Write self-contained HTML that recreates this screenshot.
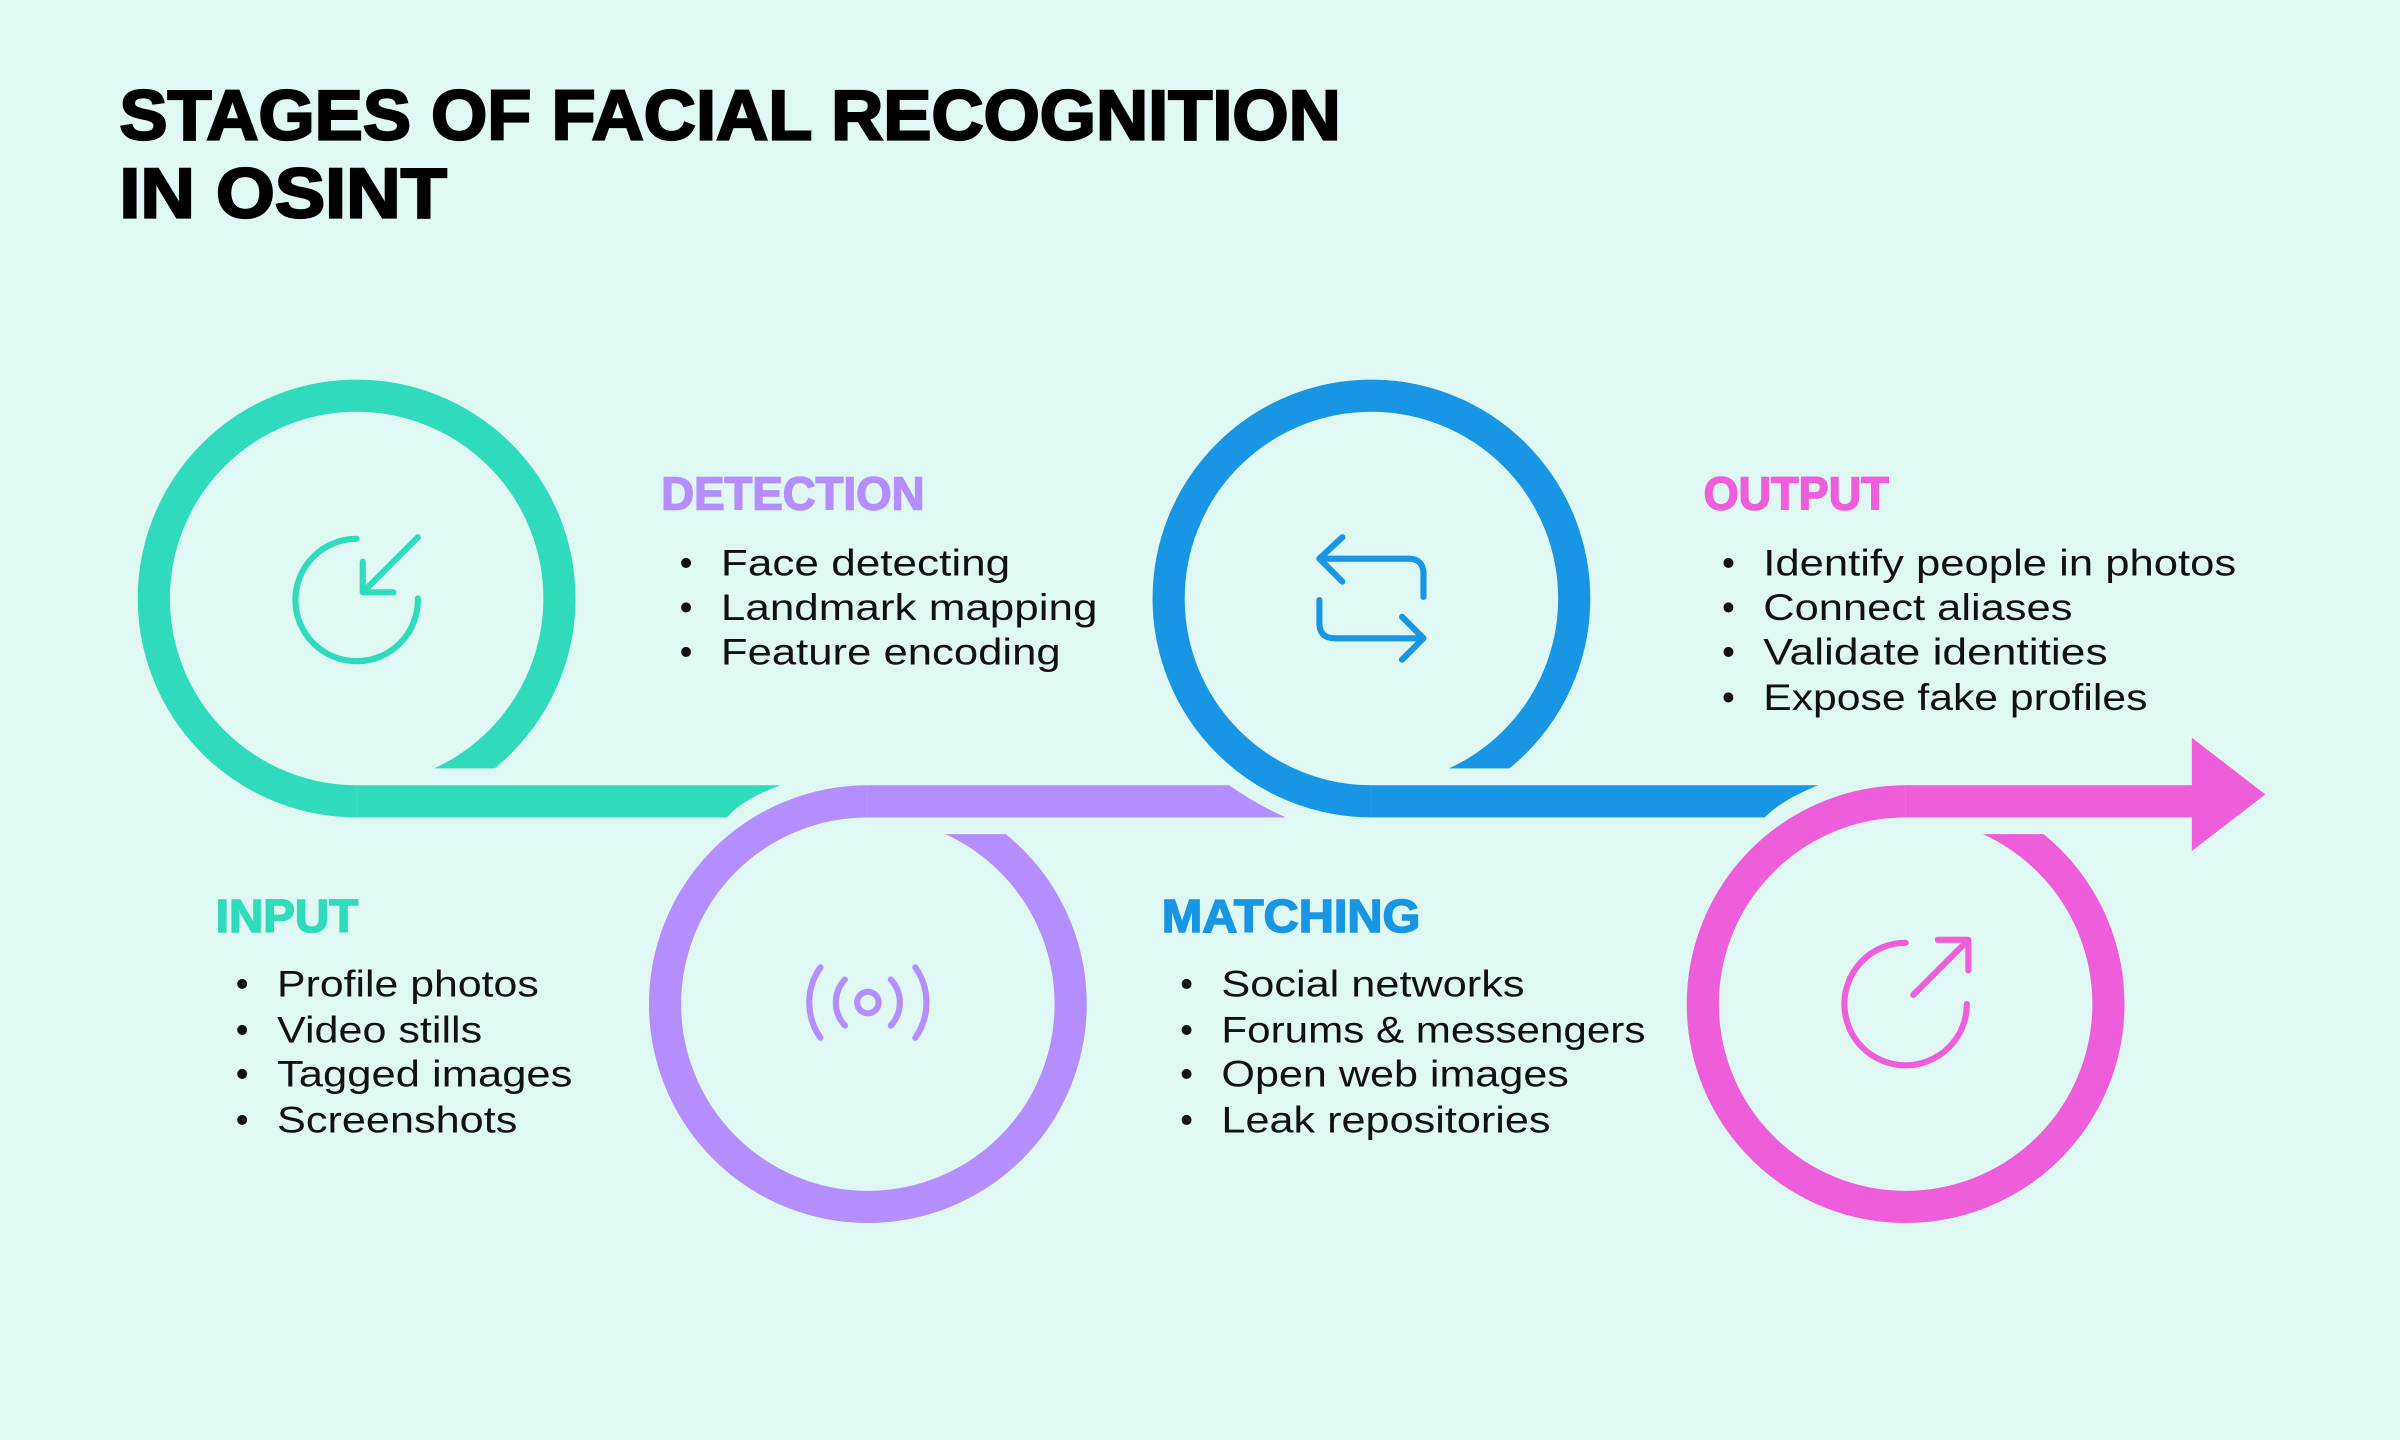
<!DOCTYPE html>
<html><head><meta charset="utf-8"><style>
html,body{margin:0;padding:0;background:#e0f8f3;}
svg{display:block;}
.b{font-family:"Liberation Sans",sans-serif;font-size:24px;fill:#111;}
.h{font-family:"Liberation Sans",sans-serif;font-weight:bold;font-size:30px;stroke-width:1;}
.t{font-family:"Liberation Sans",sans-serif;font-weight:bold;font-size:46px;fill:#000;stroke:#000;stroke-width:1.5;}
</style></head><body>
<svg width="2400" height="1440" viewBox="0 0 1568 940.8" preserveAspectRatio="none" xmlns="http://www.w3.org/2000/svg">
<defs>
<clipPath id="c1"><path d="M0,0 H1568 V502 H233 V941 H0 Z"/></clipPath>
<clipPath id="c2"><path d="M0,0 H567 V545 H1568 V941 H0 Z"/></clipPath>
<clipPath id="c3"><path d="M0,0 H1568 V502 H896 V941 H0 Z"/></clipPath>
<clipPath id="c4"><path d="M0,0 H1245 V545 H1568 V941 H0 Z"/></clipPath>
</defs>
<rect width="1568" height="941" fill="#e0f8f3"/>
<text class="t" x="78" y="91" textLength="798" lengthAdjust="spacingAndGlyphs">STAGES OF FACIAL RECOGNITION</text>
<text class="t" x="78" y="142" textLength="214" lengthAdjust="spacingAndGlyphs">IN OSINT</text>

<!-- teal -->
<circle cx="233" cy="391" r="132.5" fill="none" stroke="#30dbbb" stroke-width="21" clip-path="url(#c1)"/>
<path d="M233,513 L510,513 Q485,522 475,534 L233,534 Z" fill="#30dbbb"/>
<!-- purple -->
<circle cx="567" cy="656" r="132.5" fill="none" stroke="#b48efc" stroke-width="21" clip-path="url(#c2)"/>
<path d="M567,513 L803,513 Q820,525 840,534 L567,534 Z" fill="#b48efc"/>
<!-- blue -->
<circle cx="896" cy="391" r="132.5" fill="none" stroke="#1896e4" stroke-width="21" clip-path="url(#c3)"/>
<path d="M896,513 L1188,513 Q1165,522 1153,534 L896,534 Z" fill="#1896e4"/>
<!-- pink -->
<circle cx="1245" cy="656" r="132.5" fill="none" stroke="#ee5edb" stroke-width="21" clip-path="url(#c4)"/>
<path d="M1245,513 L1432,513 L1432,482 L1480,519 L1432,556 L1432,534 L1245,534 Z" fill="#ee5edb"/>

<!-- icons -->
<g fill="none" stroke="#30dbbb" stroke-width="4" stroke-linecap="round" stroke-linejoin="round">
<path d="M233,352 A40,40 0 1 0 273,391"/>
<path d="M273,351 L237,387 M237,367 L237,387 L257,387"/>
</g>
<g fill="none" stroke="#b48efc" stroke-width="4" stroke-linecap="round">
<circle cx="567" cy="655" r="7"/>
<path d="M552,640 A22,22 0 0 0 552,670 M582,640 A22,22 0 0 1 582,670"/>
<path d="M536,632 A40,40 0 0 0 536,678 M598,632 A40,40 0 0 1 598,678"/>
</g>
<g fill="none" stroke="#1896e4" stroke-width="4" stroke-linecap="round" stroke-linejoin="round">
<path d="M862,365 L920,365 Q930,365 930,375 L930,390 M877,351 L862,365 L877,380"/>
<path d="M862,392 L862,407 Q862,417 872,417 L930,417 M916,403 L930,417 L916,431"/>
</g>
<g fill="none" stroke="#ee5edb" stroke-width="4" stroke-linecap="round" stroke-linejoin="round">
<path d="M1245,616 A40,40 0 1 0 1285,656"/>
<path d="M1250,650 L1286,614 M1266,614 L1286,614 L1286,634"/>
</g>

<!-- DETECTION -->
<text class="h" x="432" y="333" fill="#b48efc" stroke="#b48efc" textLength="172" lengthAdjust="spacingAndGlyphs">DETECTION</text>
<g class="b">
<text x="444" y="376">•</text><text x="471" y="376" textLength="189" lengthAdjust="spacingAndGlyphs">Face detecting</text>
<text x="444" y="405">•</text><text x="471" y="405" textLength="246" lengthAdjust="spacingAndGlyphs">Landmark mapping</text>
<text x="444" y="434">•</text><text x="471" y="434" textLength="222" lengthAdjust="spacingAndGlyphs">Feature encoding</text>
</g>
<!-- INPUT -->
<text class="h" x="141" y="609" fill="#30dbbb" stroke="#30dbbb" textLength="93" lengthAdjust="spacingAndGlyphs">INPUT</text>
<g class="b">
<text x="154" y="651">•</text><text x="181" y="651" textLength="171" lengthAdjust="spacingAndGlyphs">Profile photos</text>
<text x="154" y="681">•</text><text x="181" y="681" textLength="134" lengthAdjust="spacingAndGlyphs">Video stills</text>
<text x="154" y="710">•</text><text x="181" y="710" textLength="193" lengthAdjust="spacingAndGlyphs">Tagged images</text>
<text x="154" y="740">•</text><text x="181" y="740" textLength="157" lengthAdjust="spacingAndGlyphs">Screenshots</text>
</g>
<!-- MATCHING -->
<text class="h" x="759" y="609" fill="#1896e4" stroke="#1896e4" textLength="169" lengthAdjust="spacingAndGlyphs">MATCHING</text>
<g class="b">
<text x="771" y="651">•</text><text x="798" y="651" textLength="198" lengthAdjust="spacingAndGlyphs">Social networks</text>
<text x="771" y="681">•</text><text x="798" y="681" textLength="277" lengthAdjust="spacingAndGlyphs">Forums &amp; messengers</text>
<text x="771" y="710">•</text><text x="798" y="710" textLength="227" lengthAdjust="spacingAndGlyphs">Open web images</text>
<text x="771" y="740">•</text><text x="798" y="740" textLength="215" lengthAdjust="spacingAndGlyphs">Leak repositories</text>
</g>
<!-- OUTPUT -->
<text class="h" x="1113" y="333" fill="#ee5edb" stroke="#ee5edb" textLength="121" lengthAdjust="spacingAndGlyphs">OUTPUT</text>
<g class="b">
<text x="1125" y="376">•</text><text x="1152" y="376" textLength="309" lengthAdjust="spacingAndGlyphs">Identify people in photos</text>
<text x="1125" y="405">•</text><text x="1152" y="405" textLength="202" lengthAdjust="spacingAndGlyphs">Connect aliases</text>
<text x="1125" y="434">•</text><text x="1152" y="434" textLength="225" lengthAdjust="spacingAndGlyphs">Validate identities</text>
<text x="1125" y="464">•</text><text x="1152" y="464" textLength="251" lengthAdjust="spacingAndGlyphs">Expose fake profiles</text>
</g>
</svg>
</body></html>
